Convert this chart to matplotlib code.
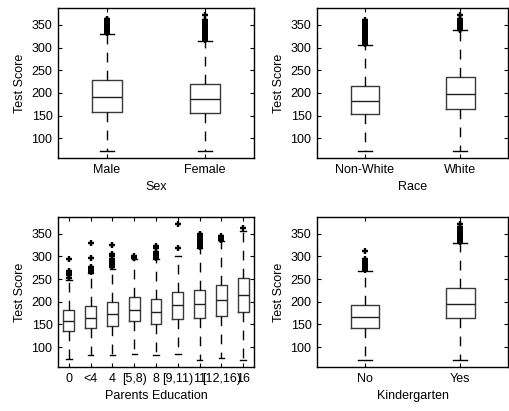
import matplotlib
matplotlib.use("Agg")
import matplotlib.pyplot as plt

plt.rcParams['font.family'] = ['Liberation Sans', 'DejaVu Sans']
plt.rcParams['font.size'] = 9

# ---- data (test score box summaries) ----
sex_labels = ['Male', 'Female']
sex_q1 = [158, 156]
sex_med = [192, 187]
sex_q3 = [228, 219]
sex_lo = [71, 71]
sex_hi = [330, 314]
sex_fliers = [
    [333, 336, 338, 340, 342, 344, 346, 348, 350, 352, 354, 356, 358, 360, 362, 364],
    [316, 318, 320, 322, 324, 326, 328, 330, 332, 334, 336, 338, 340, 342, 344,
     346, 348, 350, 353, 356, 359, 362, 371],
]

race_labels = ['Non-White', 'White']
race_q1 = [154, 165]
race_med = [182, 198]
race_q3 = [215, 235]
race_lo = [71, 73]
race_hi = [305, 338]
race_fliers = [
    [307, 310, 313, 316, 319, 322, 325, 328, 331, 334, 337, 340, 343, 346, 349,
     352, 355, 358, 360],
    [340, 342, 345, 348, 351, 354, 357, 360, 363, 371],
]

edu_labels = ['0', '<4', '4', '[5,8)', '8', '[9,11)', '11', '[12,16)', '16']
edu_q1 = [135, 143, 147, 157, 150, 162, 165, 168, 177]
edu_med = [157, 164, 173, 182, 178, 192, 194, 204, 215]
edu_q3 = [181, 190, 199, 210, 207, 222, 226, 236, 252]
edu_lo = [74, 82, 82, 85, 82, 85, 71, 76, 71]
edu_hi = [249, 264, 273, 294, 294, 301, 318, 335, 357]
edu_fliers = [
    [252, 258, 261, 264, 267, 295],
    [265, 268, 271, 274, 277, 297, 329],
    [276, 279, 282, 285, 288, 291, 295, 300, 305, 325],
    [297, 300],
    [297, 300, 303, 306, 310, 319, 322],
    [319, 372],
    [320, 323, 326, 329, 332, 335, 338, 341, 344, 347, 350],
    [337, 340, 344],
    [363],
]

kg_labels = ['No', 'Yes']
kg_q1 = [141, 164]
kg_med = [166, 195]
kg_q3 = [192, 231]
kg_lo = [71, 71]
kg_hi = [268, 329]
kg_fliers = [
    [270, 273, 276, 279, 282, 285, 288, 291, 294, 312],
    [331, 334, 337, 340, 343, 346, 349, 352, 355, 358, 361, 364, 372],
]


def make_stats(q1, med, q3, lo, hi, fliers):
    stats = []
    for i in range(len(med)):
        stats.append(dict(q1=q1[i], med=med[i], q3=q3[i],
                          whislo=lo[i], whishi=hi[i], fliers=fliers[i]))
    return stats


def draw_panel(ax, labels, stats, xlabel, width):
    n = len(stats)
    ax.bxp(stats, positions=range(1, n + 1), widths=width, showfliers=True,
           boxprops=dict(color='#3a3a3a', linewidth=1.0),
           medianprops=dict(color='#202020', linewidth=1.0),
           whiskerprops=dict(color='black', linewidth=1.0, linestyle=(0, (7, 6))),
           capprops=dict(color='black', linewidth=1.0),
           flierprops=dict(marker='+', markeredgecolor='black', markersize=5,
                           markeredgewidth=1.7))
    ax.set_xlim(0.5, n + 0.5)
    ax.set_ylim(56, 387)
    ax.set_yticks([100, 150, 200, 250, 300, 350])
    ax.set_xticks(range(1, n + 1))
    ax.set_xticklabels(labels)
    ax.tick_params(direction='in', length=3, top=True, right=True, width=0.8,
                   pad=4)
    ax.set_ylabel('Test Score', labelpad=4)
    ax.set_xlabel(xlabel, labelpad=4)
    for s in ax.spines.values():
        s.set_linewidth(1.0)


fig = plt.figure(figsize=(5.09, 4.11), dpi=100)
ax1 = fig.add_axes([0.114, 0.615, 0.385, 0.365])
ax2 = fig.add_axes([0.623, 0.615, 0.375, 0.365])
ax3 = fig.add_axes([0.114, 0.107, 0.385, 0.365])
ax4 = fig.add_axes([0.623, 0.107, 0.375, 0.365])

draw_panel(ax1, sex_labels, make_stats(sex_q1, sex_med, sex_q3, sex_lo, sex_hi, sex_fliers), 'Sex', 0.3)
draw_panel(ax2, race_labels, make_stats(race_q1, race_med, race_q3, race_lo, race_hi, race_fliers), 'Race', 0.3)
draw_panel(ax3, edu_labels, make_stats(edu_q1, edu_med, edu_q3, edu_lo, edu_hi, edu_fliers), 'Parents Education', 0.5)
draw_panel(ax4, kg_labels, make_stats(kg_q1, kg_med, kg_q3, kg_lo, kg_hi, kg_fliers), 'Kindergarten', 0.3)

fig.savefig('out.png', dpi=100)
